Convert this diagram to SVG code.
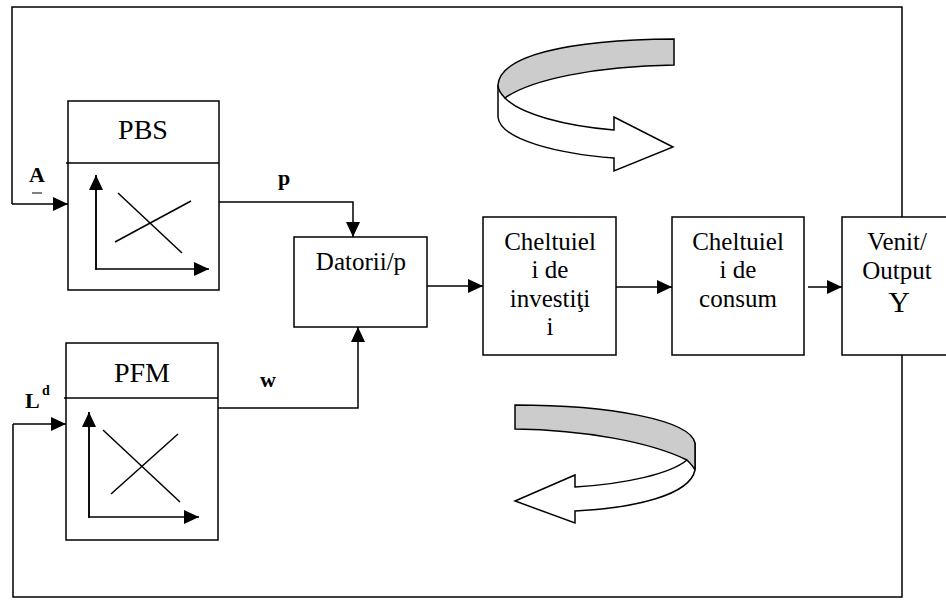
<svg xmlns="http://www.w3.org/2000/svg" width="946" height="601" viewBox="0 0 946 601">
<defs>
<style>
.ln{fill:none;stroke:#000;stroke-width:1.5}
.bx{fill:#fff;stroke:#000;stroke-width:1.5}
.t{fill:#000;text-anchor:middle}
.b{font-weight:bold;fill:#000}
.rib{stroke:#000;stroke-width:1.5;stroke-linejoin:miter}
</style>
<marker id="ah" markerUnits="userSpaceOnUse" markerWidth="16" markerHeight="14" refX="15" refY="7" orient="auto">
<path d="M0,0 L15,7 L0,14 Z" fill="#000"/>
</marker>
</defs>
<rect width="946" height="601" fill="#fff"/>

<g id="connectors">
<polyline class="ln" points="12,204 12,7 902,7 902,217"/>
<line class="ln" x1="12" y1="204" x2="68" y2="204" marker-end="url(#ah)"/>
<polyline class="ln" points="902,355 902,597 13,597 13,424"/>
<line class="ln" x1="13" y1="424" x2="66" y2="424" marker-end="url(#ah)"/>
<polyline class="ln" points="219,202 353,202 353,237" marker-end="url(#ah)"/>
<polyline class="ln" points="218,408 358,408 358,327" marker-end="url(#ah)"/>
<line class="ln" x1="427" y1="286" x2="483" y2="286" marker-end="url(#ah)"/>
<line class="ln" x1="616" y1="287" x2="672" y2="287" marker-end="url(#ah)"/>
<line class="ln" x1="808" y1="287" x2="842" y2="287" marker-end="url(#ah)"/>
</g>

<g id="pbs">
<rect class="bx" x="68" y="101" width="151" height="189"/>
<line class="ln" x1="66" y1="163" x2="219" y2="163"/>
<text class="t" x="143" y="139" style="font-family:'Liberation Serif',serif;font-size:28px">PBS</text>
<polyline class="ln" points="96,175 96,269 209,269" marker-end="url(#ah)"/>
<line class="ln" x1="96" y1="270" x2="96" y2="175" marker-end="url(#ah)"/>
<line class="ln" x1="118" y1="193" x2="182" y2="253"/>
<line class="ln" x1="115" y1="242" x2="191" y2="201"/>
</g>

<g id="pfm">
<rect class="bx" x="66" y="343" width="152" height="197"/>
<line class="ln" x1="64" y1="398" x2="218" y2="398"/>
<text class="t" x="142" y="382" style="font-family:'Liberation Serif',serif;font-size:28px">PFM</text>
<polyline class="ln" points="89,412 89,517 199,517" marker-end="url(#ah)"/>
<line class="ln" x1="89" y1="518" x2="89" y2="412" marker-end="url(#ah)"/>
<line class="ln" x1="103" y1="430" x2="180" y2="502"/>
<line class="ln" x1="111" y1="494" x2="178" y2="434"/>
</g>

<g id="labels">
<text class="b" x="37" y="182" text-anchor="middle" style="font-family:'Liberation Serif',serif;font-size:22px">A</text>
<line x1="32" y1="193" x2="42" y2="193" stroke="#000" stroke-width="1"/>
<text class="b" x="284" y="185" text-anchor="middle" style="font-family:'Liberation Serif',serif;font-size:22px">p</text>
<text class="b" x="268" y="387" text-anchor="middle" style="font-family:'Liberation Serif',serif;font-size:22px">w</text>
<text class="b" x="25" y="408" style="font-family:'Liberation Serif',serif;font-size:22px">L</text>
<text class="b" x="42" y="395" style="font-family:'Liberation Serif',serif;font-size:14px">d</text>
</g>

<g id="datorii">
<rect class="bx" x="294" y="237" width="133" height="90"/>
<text class="t" x="361" y="270" style="font-family:'Liberation Serif',serif;font-size:25px">Datorii/p</text>
</g>

<g id="investitii">
<rect class="bx" x="483" y="217" width="133" height="138"/>
<text class="t" x="550" y="250" style="font-family:'Liberation Serif',serif;font-size:25px">Cheltuiel</text>
<text class="t" x="550" y="278" style="font-family:'Liberation Serif',serif;font-size:25px">i de</text>
<text class="t" x="550" y="307" style="font-family:'Liberation Serif',serif;font-size:25px">investiţi</text>
<text class="t" x="550" y="335" style="font-family:'Liberation Serif',serif;font-size:25px">i</text>
</g>

<g id="consum">
<rect class="bx" x="672" y="217" width="132" height="138"/>
<text class="t" x="738" y="250" style="font-family:'Liberation Serif',serif;font-size:25px">Cheltuiel</text>
<text class="t" x="738" y="278" style="font-family:'Liberation Serif',serif;font-size:25px">i de</text>
<text class="t" x="738" y="307" style="font-family:'Liberation Serif',serif;font-size:25px">consum</text>
</g>

<g id="venit">
<rect class="bx" x="842" y="217" width="115" height="138"/>
<text class="t" x="897" y="250" style="font-family:'Liberation Serif',serif;font-size:25px">Venit/</text>
<text class="t" x="897" y="279" style="font-family:'Liberation Serif',serif;font-size:25px">Output</text>
<text class="t" x="899" y="312" style="font-family:'Liberation Serif',serif;font-size:30px">Y</text>
</g>

<g id="arrow-top">
<path class="rib" fill="#fff" d="M498,85 L498,117 C500,140 560,154 614,158 L614,171 L673,147 L614,117 L614,130 C565,126 520,114 505,98 Z"/>
<path class="rib" fill="#ccc" d="M498,85 C500,56 565,40 674,39 L674,65 C595,66 530,80 505,98 C501,94 498,90 498,85 Z"/>
</g>

<g id="arrow-bottom">
<path class="rib" fill="#fff" d="M695,443 L695,470 C690,495 635,508 575,511 L575,523 L515,501 L575,475 L575,487 C625,484 670,474 687,460 Z"/>
<path class="rib" fill="#ccc" d="M515,405 C610,405 690,420 695,443 L695,470 C693,466 690,463 687,460 C650,442 585,430 515,429 Z"/>
</g>
</svg>
